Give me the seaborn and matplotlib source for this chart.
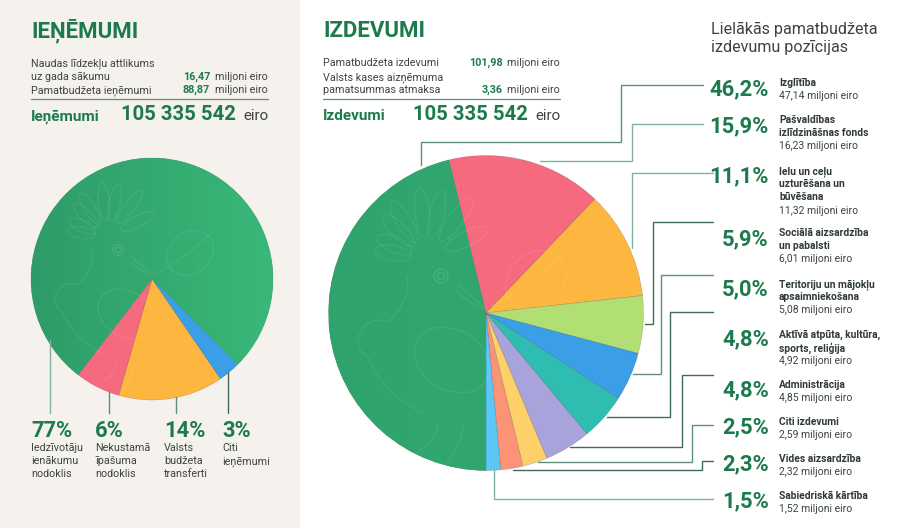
import matplotlib
matplotlib.use('Agg')
import matplotlib.pyplot as plt
from matplotlib.patches import Circle, Ellipse, PathPatch
from matplotlib.path import Path
import numpy as np
import seaborn as sns

W, H = 918, 528

# left pie
income_vals = [77, 3, 14, 6]
income_colors = ['#34ab72', '#3b9fe8', '#fdb740', '#f66a80']
income_pct = ['77%', '6%', '14%', '3%']
income_names = [['Iedzīvotāju', 'ienākumu', 'nodoklis'],
                ['Nekustamā', 'īpašuma', 'nodoklis'],
                ['Valsts', 'budžeta', 'transferti'],
                ['Citi', 'ieņēmumi']]

# right pie, miljoni eiro
spend_vals = [47.14, 16.23, 11.32, 6.01, 5.08, 4.92, 4.85, 2.59, 2.32, 1.52]
spend_colors = ['#31a76e', '#f66a80', '#fdb740', '#b2df74', '#3b9fe8',
                '#2fbdb2', '#a9a3dc', '#fdd069', '#fb9477', '#5cc6f5']
spend_pct = ['46,2%', '15,9%', '11,1%', '5,9%', '5,0%', '4,8%', '4,8%', '2,5%', '2,3%', '1,5%']
spend_names = [['Izglītība'],
               ['Pašvaldības', 'izlīdzināšnas fonds'],
               ['Ielu un ceļu', 'uzturēšana un', 'būvēšana'],
               ['Sociālā aizsardzība', 'un pabalsti'],
               ['Teritoriju un mājokļu', 'apsaimniekošana'],
               ['Aktīvā atpūta, kultūra,', 'sports, reliģija'],
               ['Administrācija'],
               ['Citi izdevumi'],
               ['Vides aizsardzība'],
               ['Sabiedriskā kārtība']]
spend_amounts = ['47,14', '16,23', '11,32', '6,01', '5,08', '4,92', '4,85', '2,59', '2,32', '1,52']

sns.set_theme(style='white')
plt.rcParams['font.family'] = ['Roboto', 'DejaVu Sans']

GREEN = '#1c7a4c'
DARK = '#2f3a35'
GREY = '#3c4440'
PALE = '#7fb39f'
MID = '#5f8f7b'
DEEP = '#3f6b58'
BIRD_ALPHA = 0.08

fig = plt.figure(figsize=(W / 100, H / 100), dpi=100, facecolor='white')

bg = fig.add_axes([0, 0, 1, 1], zorder=0)
bg.set_xlim(0, W)
bg.set_ylim(H, 0)
bg.axis('off')
bg.axvspan(0, 300, color='#f5f1ec', lw=0)


def draw_pie(vals, colors, cx, cy, r, start, grad):
    pad = 1.03
    ax = fig.add_axes([(cx - r * pad) / W, 1 - (cy + r * pad) / H, 2 * r * pad / W, 2 * r * pad / H], zorder=1)
    wedges, _ = ax.pie(vals, colors=colors, startangle=start, counterclock=False, radius=1,
                       wedgeprops=dict(edgecolor=(0, 0, 0, 0.18), linewidth=0.5))
    cmap = sns.blend_palette(grad, as_cmap=True)
    im = ax.imshow(np.linspace(0, 1, 256)[None, :], extent=(-1, 1, -1, 1), cmap=cmap, aspect='auto', zorder=wedges[0].get_zorder() + 0.1)
    im.set_clip_path(wedges[0])
    ax.set_xlim(-pad, pad)
    ax.set_ylim(-pad, pad)
    ax.set_aspect('equal')
    ax.axis('off')


draw_pie(income_vals, income_colors, 152, 279, 121, 232.4, ['#2e9c68', '#39b878'])
draw_pie(spend_vals, spend_colors, 486, 313, 157.5, 270, ['#2fa36c', '#33ab72'])

ov = fig.add_axes([0, 0, 1, 1], zorder=2)
ov.set_xlim(0, W)
ov.set_ylim(H, 0)
ov.axis('off')
ov.patch.set_alpha(0)


def curve(pts, clip, s, ex, ey):
    pts = [(ex + px * s, ey + py * s) for px, py in pts]
    codes = [Path.MOVETO] + [Path.CURVE3] * (len(pts) - 1)
    p = PathPatch(Path(pts, codes), fill=False, ec='white', alpha=BIRD_ALPHA, lw=0.9)
    ov.add_patch(p)
    p.set_clip_path(clip)


def ellipse(x, y, w, h, ang, clip, alpha=BIRD_ALPHA):
    e = Ellipse((x, y), w, h, angle=ang, fill=False, ec='white', alpha=alpha, lw=0.9)
    ov.add_patch(e)
    e.set_clip_path(clip)


def draw_bird(ex, ey, s, cx, cy, r):
    # faint hoopoe watermark, coordinates relative to the eye
    clip = Circle((cx, cy), r, transform=ov.transData)
    tips = [(-66, -26), (-64, -39), (-58, -61), (-49, -74), (-21, -88), (1, -86), (31, -78), (47, -48)]
    for tx, ty in tips:
        bx, by = -10 + tx * 0.3, -12 + ty * 0.3
        ln = np.hypot(tx - bx, ty - by) * s
        ang = np.degrees(np.arctan2(ty - by, tx - bx))
        ellipse(ex + (tx + bx) / 2 * s, ey + (ty + by) / 2 * s, ln, 15 * s, ang, clip)
    ellipse(ex, ey, 14 * s, 14 * s, 0, clip, 0.12)
    ellipse(ex, ey, 7 * s, 7 * s, 0, clip, 0.12)
    # beak, body, legs
    curve([(17, 7), (28, 20), (44, 31)], clip, s, ex, ey)
    curve([(17, 17), (28, 27), (44, 33)], clip, s, ex, ey)
    curve([(-34, -1), (-30, 25), (-53, 46), (-68, 40), (-78, 52), (-90, 70), (-73, 81)], clip, s, ex, ey)
    curve([(-73, 81), (-60, 116), (-19, 137)], clip, s, ex, ey)
    curve([(-3, 148), (-5, 165), (-23, 175)], clip, s, ex, ey)
    curve([(22, 150), (20, 170), (5, 188)], clip, s, ex, ey)
    ellipse(ex + 11 * s, ey + 84 * s, 80 * s, 60 * s, 30, clip)
    # leaf on the branch
    ellipse(ex + 95 * s, ey + 4 * s, 66 * s, 54 * s, -40, clip)
    curve([(44, 32), (80, 20), (122, -22)], clip, s, ex, ey)


draw_bird(118, 250, 0.76, 152, 279, 121)
draw_bird(441, 276, 1.0, 486, 313, 157.5)


def txt(x, y, s, px, color=GREY, weight='normal', ha='left'):
    ov.text(x, y, s, fontsize=px * 0.72, color=color, fontweight=weight, ha=ha, va='baseline')


# left header
txt(31, 37, 'IEŅĒMUMI', 22.3, GREEN, 'bold')
txt(31, 66, 'Naudas līdzekļu attlikums', 10.8)
txt(31, 80, 'uz gada sākumu', 10.8)
txt(31, 93, 'Pamatbudžeta ieņēmumi', 10.8)
txt(210, 80, '16,47', 10.8, GREEN, 'bold', 'right')
txt(268, 80, 'miljoni eiro', 10.8, ha='right')
txt(210, 93, '88,87', 10.8, GREEN, 'bold', 'right')
txt(268, 93, 'miljoni eiro', 10.8, ha='right')
ov.plot([31, 268], [98.5, 98.5], color=MID, lw=0.9)
txt(31, 120, 'Ieņēmumi', 15.2, GREEN, 'bold')
txt(236, 120, '105 335 542', 20.3, GREEN, 'bold', 'right')
txt(268, 120, 'eiro', 15, ha='right')

# right header
txt(323, 37, 'IZDEVUMI', 22.3, GREEN, 'bold')
txt(323, 66, 'Pamatbudžeta izdevumi', 10.8)
txt(323, 80, 'Valsts kases aizņēmuma', 10.8)
txt(323, 93, 'pamatsummas atmaksa', 10.8)
txt(503, 66, '101,98', 10.8, GREEN, 'bold', 'right')
txt(560, 66, 'miljoni eiro', 10.8, ha='right')
txt(503, 93, '3,36', 10.8, GREEN, 'bold', 'right')
txt(560, 93, 'miljoni eiro', 10.8, ha='right')
ov.plot([323, 560], [98.5, 98.5], color=MID, lw=0.9)
txt(323, 120, 'Izdevumi', 15.2, GREEN, 'bold')
txt(528, 120, '105 335 542', 20.3, GREEN, 'bold', 'right')
txt(560, 120, 'eiro', 15, ha='right')

txt(711, 34, 'Lielākās pamatbudžeta', 16.1)
txt(711, 52, 'izdevumu pozīcijas', 16.1)

# left labels
left_x = [31, 95, 164, 222]
leader_left = [(50, 340), (109, 392), (176, 397), (228, 372)]
leader_left_col = [PALE, MID, MID, DEEP]
for x, p, names, (lx, ly), c in zip(left_x, income_pct, income_names, leader_left, leader_left_col):
    ov.plot([lx, lx], [ly, 413], color=c, lw=1)
    txt(x, 437, p, 22, GREEN, 'bold')
    for i, n in enumerate(names):
        txt(x, 451 + i * 13, n, 10.8)

# right leaders, one polyline for every slice
leaders = [
    [(421, 165), (421, 142), (621, 142), (621, 85), (703, 85)],
    [(540, 161), (632, 161), (632, 124), (703, 124)],
    [(632, 248), (632, 173), (713, 173)],
    [(645, 324), (653, 324), (653, 222), (713, 222)],
    [(633, 374), (661, 374), (661, 275), (713, 275)],
    [(607, 417), (670, 417), (670, 312), (713, 312)],
    [(570, 447), (682, 447), (682, 375), (713, 375)],
    [(538, 462), (692, 462), (692, 425), (713, 425)],
    [(513, 470), (702, 470), (702, 461), (713, 461)],
    [(494, 470), (494, 499), (713, 499)],
]
leader_cols = [MID, PALE, PALE, DEEP, MID, DEEP, DEEP, MID, DEEP, PALE]
for pts, c in zip(leaders, leader_cols):
    xs, ys = zip(*pts)
    ov.plot(xs, ys, color=c, lw=1, solid_joinstyle='miter')

pct_y = [95, 132, 182, 245, 295, 345, 396, 433, 470, 507]
name_y = [86, 123, 174, 236, 287, 338, 388, 425, 462, 499]
for p, py, names, ny, amount in zip(spend_pct, pct_y, spend_names, name_y, spend_amounts):
    txt(769, py, p, 22, GREEN, 'bold', 'right')
    for i, n in enumerate(names):
        txt(779, ny + i * 13.2, n, 10.2, DARK, 'bold')
    txt(779, ny + len(names) * 13.2, amount + ' miljoni eiro', 10.4)

fig.savefig('out.png', dpi=100)
